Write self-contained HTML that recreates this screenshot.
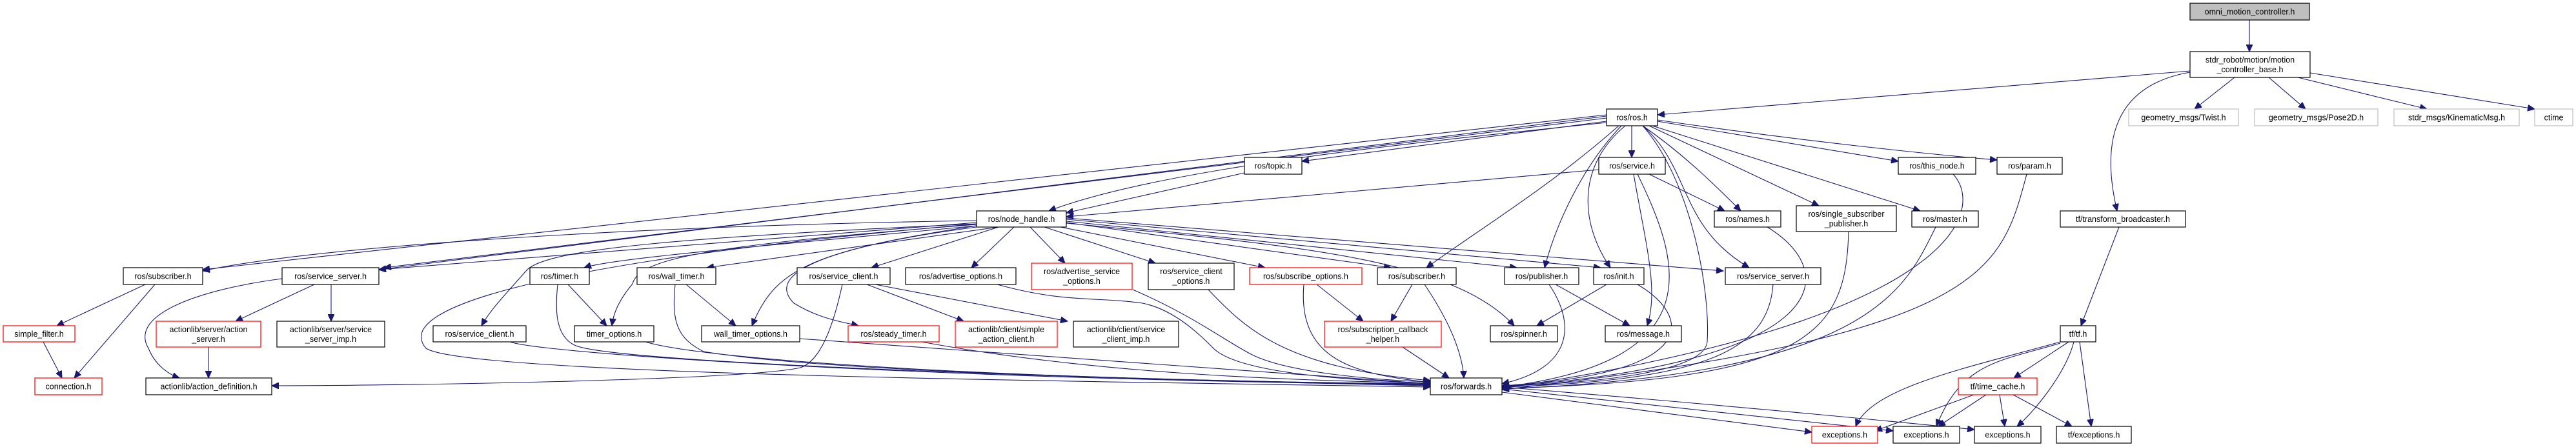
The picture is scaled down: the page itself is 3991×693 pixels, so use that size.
<!DOCTYPE html>
<html><head><meta charset="utf-8"><style>
html,body{margin:0;padding:0;background:#fff;}
svg{display:block;}
text{font-family:"Liberation Sans",sans-serif;font-size:12.5px;fill:#000;text-anchor:middle;}
.b rect{fill:#fff;stroke:#000;stroke-width:1.2;}
.r rect{fill:#fff;stroke:#ff0000;stroke-width:1.2;}
.g rect{fill:#fff;stroke:#bfbfbf;stroke-width:1.2;}
path{fill:none;stroke:#191970;stroke-width:1.1;}
</style></head><body>
<svg width="3991" height="693" viewBox="0 0 3991 693" xmlns="http://www.w3.org/2000/svg">
<defs><marker id="a" markerUnits="userSpaceOnUse" markerWidth="12" markerHeight="10" refX="11" refY="5" orient="auto"><path d="M0,0 L11,5 L0,10 Z" style="fill:#191970;stroke:#191970;stroke-width:1"/></marker></defs>
<g marker-end="url(#a)">
<path d="M3485,31 L3485,80"/>
<path d="M3393,110 L2568,178"/>
<path d="M3462,120 L3400,169"/>
<path d="M3515,120 L3572,169"/>
<path d="M3560,120 L3760,169"/>
<path d="M3579,113 L3927,169"/>
<path d="M3393,112 C3290,130 3250,200 3280,327"/>
<path d="M3283,352 L3224,505"/>
<path d="M3205,530 L3120,586"/>
<path d="M3213,530 C3200,580 3150,640 3125,661"/>
<path d="M3222,530 L3240,661"/>
<path d="M3192,532 C3100,560 3040,560 3000,661"/>
<path d="M3192,530 C3050,570 2900,600 2875,661"/>
<path d="M3077,612 L3003,661"/>
<path d="M3098,612 L3106,661"/>
<path d="M3119,612 L3210,661"/>
<path d="M3058,612 L2905,668"/>
<path d="M2327,608 L2807,670"/>
<path d="M2327,603 L2933,668"/>
<path d="M2327,600 C2700,630 3000,660 3059,666"/>
<path d="M2489,178 L314,418"/>
<path d="M2489,180 L587,418"/>
<path d="M2489,183 L595,415"/>
<path d="M2489,188 L2017,250"/>
<path d="M2489,190 C2200,220 1800,260 1625,327"/>
<path d="M1928,268 L1652,330"/>
<path d="M2477,263 L1652,336"/>
<path d="M2528,195 L2528,244"/>
<path d="M2568,188 L2941,250"/>
<path d="M2568,186 C2800,220 3000,240 3094,248"/>
<path d="M2545,195 C2610,240 2660,290 2697,327"/>
<path d="M2555,195 L2818,319"/>
<path d="M2560,195 L2975,327"/>
<path d="M2508,195 C2400,290 2300,350 2210,415"/>
<path d="M2512,195 C2450,260 2410,350 2393,415"/>
<path d="M2518,195 C2440,260 2450,350 2495,415"/>
<path d="M2545,195 C2620,260 2600,350 2710,415"/>
<path d="M2545,195 C2620,280 2650,450 2645,530 C2640,580 2450,595 2327,598"/>
<path d="M2555,270 L2672,327"/>
<path d="M2531,270 C2550,380 2570,450 2552,505"/>
<path d="M2537,270 C2600,400 2660,560 2327,600"/>
<path d="M2738,352 C2850,420 2850,560 2327,600"/>
<path d="M2864,359 C2860,520 2800,590 2327,602"/>
<path d="M3026,270 C3080,330 3020,500 2327,602"/>
<path d="M2999,352 C2950,450 2900,580 2327,603"/>
<path d="M3140,270 C3100,420 3080,520 2327,604"/>
<path d="M2747,441 C2740,540 2650,590 2327,600"/>
<path d="M2489,441 L2381,505"/>
<path d="M2537,441 C2620,490 2640,580 2327,598"/>
<path d="M2410,441 L2525,505"/>
<path d="M2400,441 C2440,500 2440,570 2327,595"/>
<path d="M2188,441 L2155,498"/>
<path d="M2207,441 C2240,490 2265,540 2268,586"/>
<path d="M2040,441 L2112,498"/>
<path d="M2020,441 C2010,560 2100,580 2216,593"/>
<path d="M2173,538 L2245,586"/>
<path d="M1513,342 C1000,350 500,380 314,420"/>
<path d="M1513,345 L587,418"/>
<path d="M1513,350 C1200,380 950,400 905,415"/>
<path d="M1547,352 L1095,415"/>
<path d="M1513,347 C1000,370 840,390 815,420 C780,460 760,480 746,505"/>
<path d="M1513,348 C1100,380 990,400 980,440 C955,470 950,490 948,505"/>
<path d="M1513,350 C1250,390 1200,420 1165,505"/>
<path d="M1513,352 C1300,380 1180,420 1230,470 C1270,495 1310,500 1330,505"/>
<path d="M1513,347 C900,400 600,470 660,540 C720,580 1600,590 2216,600"/>
<path d="M1547,352 L1350,415"/>
<path d="M1571,352 L1505,415"/>
<path d="M1596,352 L1650,408"/>
<path d="M1618,352 L1790,408"/>
<path d="M1643,352 L1960,415"/>
<path d="M1652,345 L2155,415"/>
<path d="M1652,343 L2350,415"/>
<path d="M1652,340 L2480,415"/>
<path d="M1652,338 L2670,420"/>
<path d="M1652,346 C2000,380 2250,400 2346,505"/>
<path d="M225,441 L88,505"/>
<path d="M240,441 L115,586"/>
<path d="M67,530 L96,586"/>
<path d="M487,441 L365,498"/>
<path d="M513,441 L513,498"/>
<path d="M437,432 C300,450 200,490 230,540 C240,565 260,580 278,586"/>
<path d="M323,538 L323,586"/>
<path d="M880,441 L940,505"/>
<path d="M864,441 C860,480 860,520 890,535 C950,565 1800,590 2216,598"/>
<path d="M1063,441 L1140,505"/>
<path d="M1046,441 C1040,500 1050,525 1090,545 C1300,580 1900,590 2216,597"/>
<path d="M1343,441 L1493,498"/>
<path d="M1356,441 L1654,498"/>
<path d="M1305,441 C1290,510 1270,560 1240,570 C1150,590 600,598 421,598"/>
<path d="M790,530 C850,550 1500,590 2216,596"/>
<path d="M1000,530 C1100,560 1600,590 2216,595"/>
<path d="M1239,525 L2216,595"/>
<path d="M1428,530 C1700,580 2000,590 2216,594"/>
<path d="M1545,441 C1650,470 1700,460 1770,470 C1820,480 1860,520 1880,540 C1920,580 2100,590 2216,594"/>
<path d="M1755,449 C1850,490 1900,530 1940,550 C2000,580 2150,590 2216,592"/>
<path d="M1872,449 C1930,510 1990,570 2216,590"/>
</g>

<g class="g"><rect x="3393" y="5" width="185" height="26" style="fill:#bfbfbf;stroke:#000"/></g>
<text x="3485.5" y="22.5">omni_motion_controller.h</text>
<g class="b"><rect x="3393" y="80" width="186" height="40"/></g>
<text x="3486" y="97">stdr_robot/motion/motion</text><text x="3486" y="112">_controller_base.h</text>
<g class="g">
<rect x="3298" y="169" width="170" height="26"/><rect x="3493" y="169" width="191" height="26"/>
<rect x="3709" y="169" width="194" height="26"/><rect x="3927" y="169" width="59" height="26"/>
</g>
<text x="3383" y="186.5">geometry_msgs/Twist.h</text><text x="3588.5" y="186.5">geometry_msgs/Pose2D.h</text>
<text x="3806" y="186.5">stdr_msgs/KinematicMsg.h</text><text x="3956.5" y="186.5">ctime</text>

<g class="b">
<rect x="2489" y="169" width="79" height="26"/>
<rect x="1928" y="244" width="89" height="26"/><rect x="2477" y="244" width="103" height="26"/>
<rect x="2941" y="244" width="120" height="26"/><rect x="3094" y="244" width="101" height="26"/>
<rect x="1513" y="327" width="139" height="25"/><rect x="2656" y="327" width="103" height="25"/>
<rect x="2783" y="319" width="155" height="40"/><rect x="2962" y="327" width="103" height="25"/>
<rect x="3192" y="327" width="194" height="25"/>
<rect x="191" y="415" width="123" height="26"/><rect x="437" y="415" width="150" height="26"/>
<rect x="821" y="415" width="92" height="26"/><rect x="987" y="415" width="122" height="26"/>
<rect x="1235" y="415" width="144" height="26"/><rect x="1403" y="415" width="171" height="26"/>
<rect x="2134" y="415" width="122" height="26"/><rect x="2331" y="415" width="115" height="26"/>
<rect x="2469" y="415" width="78" height="26"/><rect x="2673" y="415" width="148" height="26"/>
<rect x="1779" y="408" width="133" height="41"/>
<rect x="671" y="505" width="144" height="25"/><rect x="890" y="505" width="123" height="25"/>
<rect x="1087" y="505" width="152" height="25"/><rect x="2309" y="505" width="104" height="25"/>
<rect x="2487" y="505" width="118" height="25"/><rect x="3192" y="505" width="55" height="25"/>
<rect x="429" y="498" width="167" height="40"/><rect x="1663" y="498" width="163" height="40"/>
<rect x="226" y="586" width="195" height="26"/><rect x="2216" y="586" width="111" height="26"/>
<rect x="2933" y="661" width="103" height="26"/><rect x="3059" y="661" width="103" height="26"/>
<rect x="3186" y="661" width="116" height="26"/>
</g>
<g class="r">
<rect x="1936" y="415" width="174" height="26"/><rect x="1598" y="408" width="156" height="41"/>
<rect x="5" y="505" width="111" height="25"/><rect x="1314" y="505" width="141" height="25"/>
<rect x="242" y="498" width="162" height="40"/><rect x="1480" y="498" width="158" height="40"/>
<rect x="2052" y="498" width="181" height="40"/>
<rect x="54" y="586" width="104" height="26"/><rect x="3034" y="586" width="122" height="26"/>
<rect x="2807" y="661" width="102" height="26"/>
</g>

<text x="2528.5" y="186.5">ros/ros.h</text>
<text x="1972.5" y="261.5">ros/topic.h</text><text x="2528.5" y="261.5">ros/service.h</text>
<text x="3001" y="261.5">ros/this_node.h</text><text x="3144.5" y="261.5">ros/param.h</text>
<text x="1582.5" y="344">ros/node_handle.h</text><text x="2707.5" y="344">ros/names.h</text>
<text x="2860.5" y="336">ros/single_subscriber</text><text x="2860.5" y="351">_publisher.h</text>
<text x="3013.5" y="344">ros/master.h</text><text x="3289" y="344">tf/transform_broadcaster.h</text>
<text x="252.5" y="432.5">ros/subscriber.h</text><text x="512" y="432.5">ros/service_server.h</text>
<text x="867" y="432.5">ros/timer.h</text><text x="1048" y="432.5">ros/wall_timer.h</text>
<text x="1307" y="432.5">ros/service_client.h</text><text x="1488.5" y="432.5">ros/advertise_options.h</text>
<text x="1676" y="425">ros/advertise_service</text><text x="1676" y="440">_options.h</text>
<text x="1845.5" y="425">ros/service_client</text><text x="1845.5" y="440">_options.h</text>
<text x="2023" y="432.5">ros/subscribe_options.h</text><text x="2195" y="432.5">ros/subscriber.h</text>
<text x="2388.5" y="432.5">ros/publisher.h</text><text x="2508" y="432.5">ros/init.h</text>
<text x="2747" y="432.5">ros/service_server.h</text>
<text x="60.5" y="522">simple_filter.h</text><text x="743" y="522">ros/service_client.h</text>
<text x="951.5" y="522">timer_options.h</text><text x="1163" y="522">wall_timer_options.h</text>
<text x="1384.5" y="522">ros/steady_timer.h</text><text x="2361" y="522">ros/spinner.h</text>
<text x="2546" y="522">ros/message.h</text><text x="3219.5" y="522">tf/tf.h</text>
<text x="323" y="515">actionlib/server/action</text><text x="323" y="530">_server.h</text>
<text x="512.5" y="515">actionlib/server/service</text><text x="512.5" y="530">_server_imp.h</text>
<text x="1559" y="515">actionlib/client/simple</text><text x="1559" y="530">_action_client.h</text>
<text x="1744.5" y="515">actionlib/client/service</text><text x="1744.5" y="530">_client_imp.h</text>
<text x="2142.5" y="515">ros/subscription_callback</text><text x="2142.5" y="530">_helper.h</text>
<text x="106" y="603.5">connection.h</text><text x="323.5" y="603.5">actionlib/action_definition.h</text>
<text x="2271.5" y="603.5">ros/forwards.h</text><text x="3095" y="603.5">tf/time_cache.h</text>
<text x="2858" y="678.5">exceptions.h</text><text x="2984.5" y="678.5">exceptions.h</text>
<text x="3110.5" y="678.5">exceptions.h</text><text x="3244" y="678.5">tf/exceptions.h</text>
</svg>
</body></html>
